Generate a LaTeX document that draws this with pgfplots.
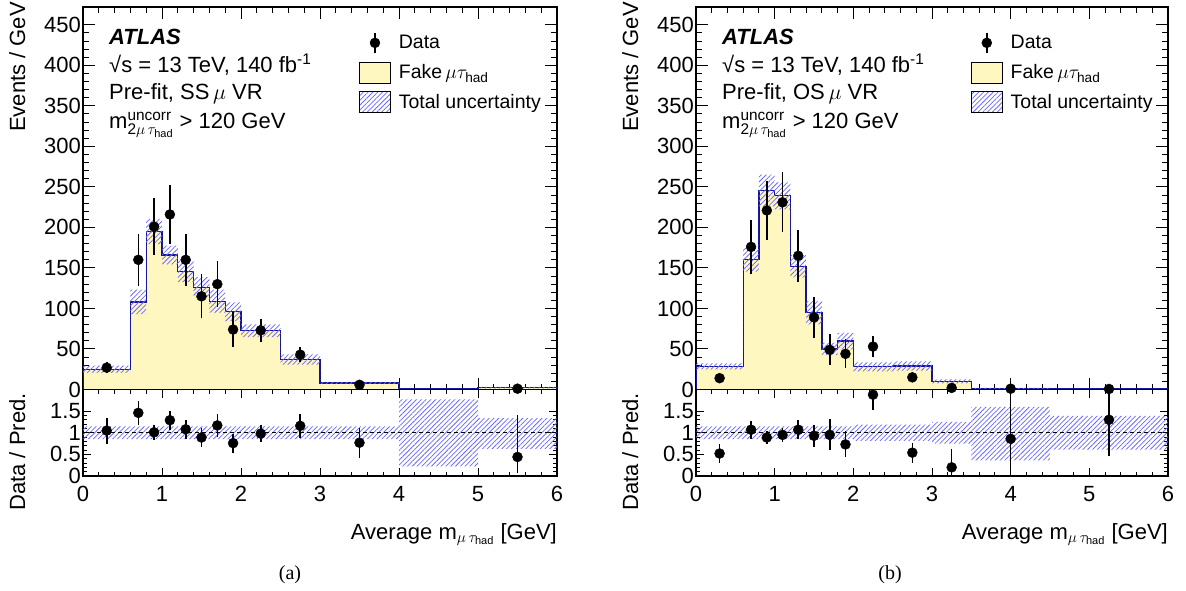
\RequirePackage{fix-cm}
\documentclass[border=0pt]{standalone}
\usepackage{amsmath}
\usepackage{fontspec}
\setmainfont{Liberation Sans}
\newfontfamily\capfont{Liberation Serif}
\usepackage{pgfplots}
\pgfplotsset{compat=1.18}
\usepackage{pgfplotstable}
\usetikzlibrary{patterns.meta}

\definecolor{fakeyellow}{RGB}{255,246,192}
\definecolor{histblue}{RGB}{20,20,150}
\definecolor{hatchblue}{RGB}{105,105,255}

\newcommand{\lab}{\fontsize{22}{26}\selectfont}
\newcommand{\legfont}{\fontsize{19.5}{23}\selectfont}

\tikzset{hatch/.style={pattern={Lines[angle=45, distance=3.4pt, line width=0.75pt]}, pattern color=hatchblue}}

% prediction, step values at left bin edges (last row closes the histogram)
\pgfplotstableread{
x   pred
0.0 25
0.6 108
0.8 195
1.0 166
1.2 146
1.4 126
1.6 109
1.8 96
2.0 72.5
2.5 37
3.0 8
4.0 0.5
5.0 2.3
6.0 2.3
}\predSS

\pgfplotstableread{
x    y    ey   r    rp   rm
0.3  27   7    1.05 0.30 0.30
0.7  160  32   1.46 0.28 0.28
0.9  201  35   1.01 0.18 0.18
1.1  216  36   1.29 0.22 0.22
1.3  160  32   1.08 0.22 0.22
1.5  115  27   0.89 0.21 0.21
1.7  130  28   1.17 0.27 0.27
1.9  74   22   0.76 0.22 0.22
2.25 73   14   0.98 0.19 0.19
2.75 43   9    1.16 0.28 0.28
3.5  5.8  2.5  0.77 0.35 0.35
5.5  1    1    0.44 0.97 0.38
}\dataSS

\pgfplotstableread{
x   pred
0.0 28.4
0.6 160
0.8 245.6
1.0 239
1.2 152
1.4 94.7
1.6 50
1.8 59.7
2.0 28
2.5 29
3.0 10
3.5 1.16
4.5 0.51
6.0 0.51
}\predOS

\pgfplotstableread{
x    y    ey   r    rp   rm
0.3  14   4    0.52 0.21 0.21
0.7  176  33   1.07 0.21 0.21
0.9  221  36   0.89 0.14 0.14
1.1  231  37   0.95 0.17 0.17
1.3  165  32   1.07 0.22 0.22
1.5  89   25   0.93 0.26 0.26
1.7  49   19   0.95 0.36 0.36
1.9  44   18   0.73 0.30 0.30
2.25 53   13   1.88 0.40 0.36
2.75 15   6    0.54 0.23 0.23
3.25 2    2    0.20 0.43 0.17
4.0  1    1    0.86 1.20 0.72
5.25 0.67 0.67 1.30 0.80 0.84
}\dataOS

\pgfplotsset{
  panel/.style={scale only axis, xmin=0, xmax=6, xtick={0,...,6}, minor x tick num=4,
    tick align=inside, xticklabel pos=lower, yticklabel pos=left,
    axis line style={line width=1.3pt}, every tick/.append style={line width=1pt, black},
    tick label style={font=\lab}, yticklabel style={inner xsep=2pt},
    xticklabel style={yshift=-7pt},
    /pgf/number format/assume math mode=true},
  mainpanel/.style={panel, height=382.5pt, ymin=0, ymax=472, ytick={0,50,...,450},
    minor y tick num=4, xticklabels={}, major tick length=12pt, minor tick length=6pt},
  ratiopanel/.style={panel, height=86.5pt, ymin=0, ymax=2, ytick={0,0.5,1,1.5},
    minor y tick num=4, major tick length=8pt, minor tick length=4pt},
  datapts/.style={only marks, mark=*, mark size=5pt, black,
    error bars/y dir=both, error bars/y explicit, error bars/error mark=none,
    error bars/error bar style={line width=1.6pt, black}},
  atlaslegend/.style={legend style={draw=none, fill=none, font=\legfont,
    at={(axis description cs:0.582,0.935)}, anchor=north west, inner sep=0pt,
    row sep=8pt, nodes={inner sep=1pt}, /tikz/every odd column/.append style={column sep=7pt}},
    legend cell align=left},
}

\begin{document}
\begin{tikzpicture}
\useasboundingbox (0,0) rectangle (1186pt,590pt);

% ---------------- (a) SS ----------------
\begin{axis}[mainpanel, width=474pt, at={(83pt,200.5pt)}, anchor=south west, atlaslegend]
  \addplot[const plot, fill=fakeyellow, draw=histblue, line width=1.3pt, forget plot]
    table[x=x, y=pred] {\predSS} \closedcycle;
  % total uncertainty band (upper edge, then lower edge backwards)
  \addplot[hatch, draw=none, forget plot] coordinates {
    (0,29.5)(0.6,29.5)(0.6,123.1)(0.8,123.1)(0.8,210.6)(1.0,210.6)(1.0,177.6)(1.2,177.6)
    (1.2,159.1)(1.4,159.1)(1.4,138.6)(1.6,138.6)(1.6,123.2)(1.8,123.2)(1.8,107.5)(2.0,107.5)
    (2.0,80.5)(2.5,80.5)(2.5,43.3)(3.0,43.3)(3.0,9.2)(4.0,9.2)(4.0,0.88)(5.0,0.88)(5.0,3.1)(6.0,3.1)
    (6.0,1.5)(5.0,1.5)(5.0,0.12)(4.0,0.12)(4.0,6.8)(3.0,6.8)(3.0,30.7)(2.5,30.7)(2.5,64.5)(2.0,64.5)
    (2.0,84.5)(1.8,84.5)(1.8,94.8)(1.6,94.8)(1.6,113.4)(1.4,113.4)(1.4,132.9)(1.2,132.9)
    (1.2,154.4)(1.0,154.4)(1.0,179.4)(0.8,179.4)(0.8,92.9)(0.6,92.9)(0.6,20.5)(0,20.5)
  } -- cycle;
  \addplot[forget plot, datapts] table[x=x, y=y, y error=ey] {\dataSS};
  \addlegendimage{legend image code/.code={\draw[black,line width=1.6pt](15.5pt,-10pt)--(15.5pt,10pt);\fill[black](15.5pt,0pt) circle (5pt);}}
  \addlegendentry{Data}
  \addlegendimage{legend image code/.code={\draw[black,line width=0.8pt,fill=fakeyellow](0pt,-10.5pt) rectangle (31pt,10.5pt);}}
  \addlegendentry{Fake\,$\mu\tau_{\text{had}}$}
  \addlegendimage{legend image code/.code={\fill[hatch](0pt,-10.5pt) rectangle (31pt,10.5pt);}}
  \addlegendentry{Total uncertainty}
\end{axis}
\begin{axis}[ratiopanel, width=474pt, at={(83pt,114pt)}, anchor=south west]
  \addplot[hatch, draw=none] coordinates {
    (0,1.15)(4,1.15)(4,1.77)(5,1.77)(5,1.34)(6,1.34)
    (6,0.63)(5,0.63)(5,0.22)(4,0.22)(4,0.85)(0,0.85)
  } -- cycle;
  \addplot[black, line width=1.2pt, dash pattern=on 4pt off 3pt] coordinates {(0,1) (6,1)};
  \addplot[datapts] table[x=x, y=r, y error plus=rp, y error minus=rm] {\dataSS};
\end{axis}

% ---------------- (b) OS ----------------
\begin{axis}[mainpanel, width=472pt, at={(696pt,200.5pt)}, anchor=south west, atlaslegend]
  \addplot[const plot, fill=fakeyellow, draw=histblue, line width=1.3pt, forget plot]
    table[x=x, y=pred] {\predOS} \closedcycle;
  \addplot[hatch, draw=none, forget plot] coordinates {
    (0,32.1)(0.6,32.1)(0.6,174.4)(0.8,174.4)(0.8,265.2)(1.0,265.2)(1.0,255.7)(1.2,255.7)
    (1.2,165.7)(1.4,165.7)(1.4,108.9)(1.6,108.9)(1.6,57.5)(1.8,57.5)(1.8,69.8)(2.0,69.8)
    (2.0,33.6)(2.5,33.6)(2.5,34.8)(3.0,34.8)(3.0,12.5)(3.5,12.5)(3.5,1.88)(4.5,1.88)(4.5,0.71)(6,0.71)
    (6,0.31)(4.5,0.31)(4.5,0.44)(3.5,0.44)(3.5,7.5)(3.0,7.5)(3.0,23.2)(2.5,23.2)(2.5,22.4)(2.0,22.4)
    (2.0,49.6)(1.8,49.6)(1.8,42.5)(1.6,42.5)(1.6,80.5)(1.4,80.5)(1.4,138.3)(1.2,138.3)
    (1.2,222.3)(1.0,222.3)(1.0,226.0)(0.8,226.0)(0.8,145.6)(0.6,145.6)(0.6,24.7)(0,24.7)
  } -- cycle;
  \addplot[forget plot, datapts] table[x=x, y=y, y error=ey] {\dataOS};
  \addlegendimage{legend image code/.code={\draw[black,line width=1.6pt](15.5pt,-10pt)--(15.5pt,10pt);\fill[black](15.5pt,0pt) circle (5pt);}}
  \addlegendentry{Data}
  \addlegendimage{legend image code/.code={\draw[black,line width=0.8pt,fill=fakeyellow](0pt,-10.5pt) rectangle (31pt,10.5pt);}}
  \addlegendentry{Fake\,$\mu\tau_{\text{had}}$}
  \addlegendimage{legend image code/.code={\fill[hatch](0pt,-10.5pt) rectangle (31pt,10.5pt);}}
  \addlegendentry{Total uncertainty}
\end{axis}
\begin{axis}[ratiopanel, width=472pt, at={(696pt,114pt)}, anchor=south west]
  \addplot[hatch, draw=none] coordinates {
    (0,1.15)(2,1.15)(2,1.19)(3,1.19)(3,1.25)(3.5,1.25)(3.5,1.60)(4.5,1.60)(4.5,1.39)(6,1.39)
    (6,0.61)(4.5,0.61)(4.5,0.36)(3.5,0.36)(3.5,0.75)(3,0.75)(3,0.81)(2,0.81)(2,0.85)(0,0.85)
  } -- cycle;
  \addplot[black, line width=1.2pt, dash pattern=on 4pt off 3pt] coordinates {(0,1) (6,1)};
  \addplot[datapts] table[x=x, y=r, y error plus=rp, y error minus=rm] {\dataOS};
\end{axis}

% ---------------- text ----------------
\foreach \dx/\reg in {0/SS, 613/OS} {
  \begin{scope}[xshift=\dx pt]
    \node[anchor=base west, inner sep=0pt, font=\lab\bfseries\itshape] at (109pt,545pt) {ATLAS};
    \node[anchor=base west, inner sep=0pt, font=\lab] at (109pt,517.3pt) {√s = 13 TeV, 140 fb\textsuperscript{-1}};
    \node[anchor=base west, inner sep=0pt, font=\lab] at (109pt,490pt) {Pre-fit, \reg\,$\mu$ VR};
    \node[anchor=base west, inner sep=0pt, font=\lab] at (109pt,461.7pt) {m$^{\text{uncorr}}_{\text{2}\mu\,\tau_{\text{had}}}$ > 120 GeV};
    \node[rotate=90, anchor=base east, inner sep=0pt, font=\lab] at (25pt,588pt) {Events / GeV};
    \node[rotate=90, anchor=base east, inner sep=0pt, font=\lab] at (25pt,197pt) {Data / Pred.};
  \end{scope}
}
\node[anchor=base east, inner sep=0pt, font=\lab] at (557pt,51pt) {Average m$_{\mu\,\tau_{\text{had}}}$ [GeV]};
\node[anchor=base east, inner sep=0pt, font=\lab] at (1168pt,51pt) {Average m$_{\mu\,\tau_{\text{had}}}$ [GeV]};
\node[font=\capfont\fontsize{20}{22}\selectfont] at (290pt,15pt) {(a)};
\node[font=\capfont\fontsize{20}{22}\selectfont] at (890pt,15pt) {(b)};
\end{tikzpicture}
\end{document}
